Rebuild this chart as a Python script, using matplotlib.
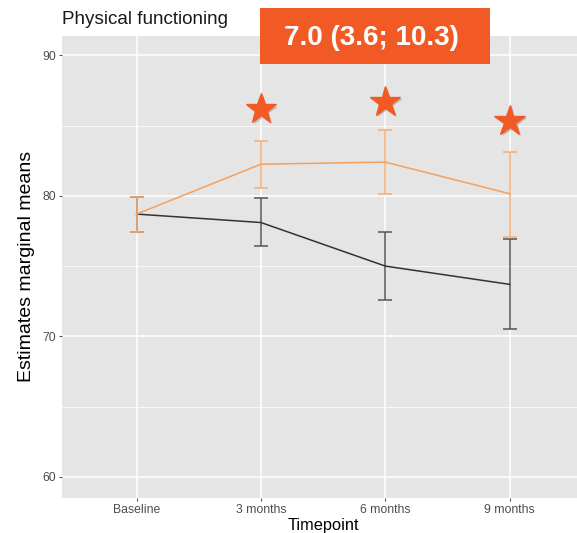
import matplotlib.pyplot as plt
import matplotlib.patheffects as pe
from matplotlib.patches import Rectangle
from matplotlib.ticker import MultipleLocator

plt.rcParams['font.family'] = ['Liberation Sans', 'DejaVu Sans']

# estimated marginal means per timepoint
timepoints = ["Baseline", "3 months", "6 months", "9 months"]
intervention_mean = [78.7, 82.25, 82.4, 80.15]
intervention_low = [77.4, 80.55, 80.15, 77.1]
intervention_high = [79.95, 83.9, 84.7, 83.15]
control_mean = [78.7, 78.1, 75.0, 73.7]
control_low = [77.4, 76.4, 72.6, 70.5]
control_high = [79.95, 79.85, 77.45, 76.9]

# significance stars above the intervention arm
star_points = ["3 months", "6 months", "9 months"]
star_levels = [86.15, 86.7, 85.3]
effect_text = "7.0 (3.6; 10.3)"

orange = "#F5A05C"
dark = "#333333"
accent = "#F15A24"

x = list(range(1, len(timepoints) + 1))

fig = plt.figure(figsize=(5.77, 5.33), dpi=100)
ax = fig.add_axes([0.1075, 0.0657, 0.905, 0.8675])
ax.set_facecolor("#E5E5E5")

ax.set_xlim(0.4, 4.6)
ax.set_ylim(58.5, 91.4)
ax.set_xticks(x)
ax.set_xticklabels(timepoints)
ax.yaxis.set_major_locator(MultipleLocator(10))
ax.yaxis.set_minor_locator(MultipleLocator(5))
ax.grid(which="major", color="white", lw=1.1)
ax.grid(which="minor", axis="y", color="white", lw=0.5)
ax.set_axisbelow(True)
for s in ax.spines.values():
    s.set_visible(False)
ax.tick_params(axis="both", which="major", length=2.5, color="#555555",
               labelcolor="#4D4D4D", labelsize=8.8, pad=2)
ax.tick_params(axis="y", which="minor", length=0)

# control arm
ax.errorbar(x, control_mean,
            yerr=[[m - l for m, l in zip(control_mean, control_low)],
                  [h - m for m, h in zip(control_mean, control_high)]],
            color=dark, ecolor="#555555", lw=1.1, elinewidth=1.1,
            capsize=5, capthick=1.1, zorder=3)

# intervention arm
ax.errorbar(x, intervention_mean,
            yerr=[[m - l for m, l in zip(intervention_mean, intervention_low)],
                  [h - m for m, h in zip(intervention_mean, intervention_high)]],
            color=orange, ecolor="#F6AE72", lw=1.1, elinewidth=1.1,
            capsize=5, capthick=1.1, zorder=4)

star_x = [timepoints.index(t) + 1 for t in star_points]
ax.plot(star_x, star_levels, ls="none", marker="*", ms=23, color=accent,
        mec=accent, zorder=5,
        path_effects=[pe.SimplePatchShadow(offset=(1.5, -1.5), shadow_rgbFace="#888888", alpha=0.45),
                      pe.Normal()])

ax.set_xlabel("Timepoint", fontsize=11.8, labelpad=1)
ax.set_ylabel("Estimates marginal means", fontsize=14, labelpad=5)

fig.text(0.1075, 0.947, "Physical functioning", fontsize=13.6, color="#1A1A1A",
         ha="left", va="bottom")

# effect estimate banner
fig.add_artist(Rectangle((0.4506, 0.8799), 0.3986, 0.1051, transform=fig.transFigure,
                         fc=accent, ec="none", zorder=6))
fig.text(0.6438, 0.9287, effect_text, fontsize=20, fontweight="bold", color="white",
         ha="center", va="center", zorder=7)

fig.savefig("out.png", dpi=100)
